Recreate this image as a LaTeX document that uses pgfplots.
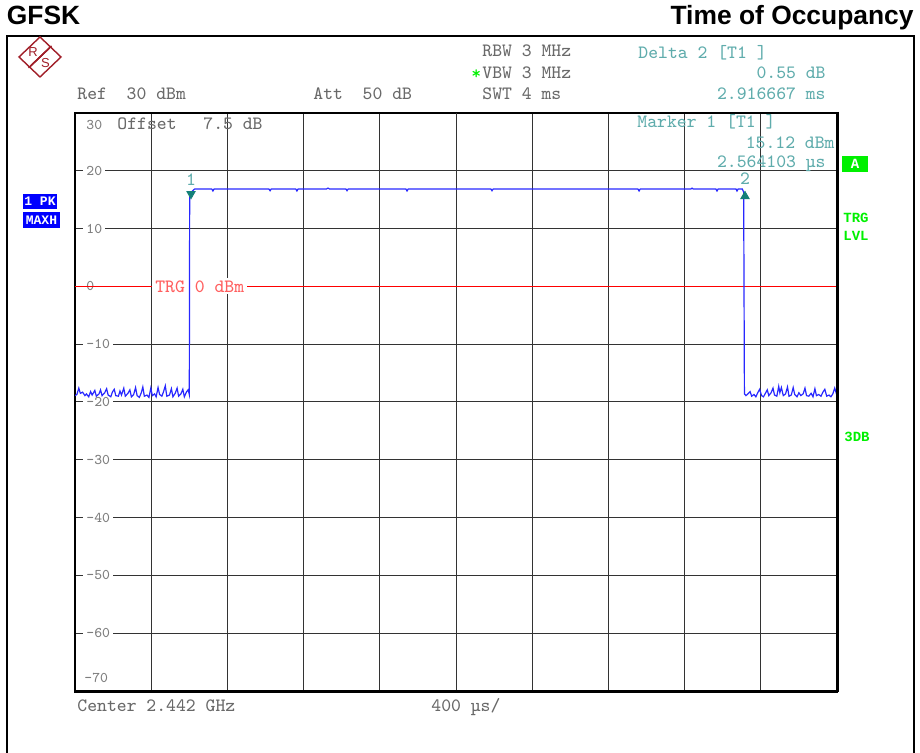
\documentclass[border=0pt]{standalone}
\usepackage{fontspec}
\setmainfont{Liberation Sans}
\newfontfamily\boldmono{Liberation Mono}
\usepackage{pgfplots}
\pgfplotsset{compat=1.18}

\definecolor{rsgray}{RGB}{105,105,105}
\definecolor{tickgray}{RGB}{125,125,125}
\definecolor{mkteal}{RGB}{95,172,172}
\definecolor{mkdark}{RGB}{20,128,120}
\definecolor{tracebl}{RGB}{40,40,255}
\definecolor{trgred}{RGB}{255,95,95}
\definecolor{rsgreen}{RGB}{0,240,0}
\definecolor{rsblue}{RGB}{0,0,255}
\definecolor{rsred}{RGB}{160,30,40}

\newcommand\hdr{\ttfamily\fontsize{9.4}{10}\selectfont}
\newcommand\tkl{\ttfamily\fontsize{7.4}{8}\selectfont}
\newcommand\gl{\boldmono\bfseries\fontsize{7}{8}\selectfont}

\begin{document}
\begin{tikzpicture}
% axis box = pixels x 75..837, y 113..691 (0.5pt per pixel)
\begin{axis}[
    at={(0,0)}, anchor=south west,
    scale only axis,
    width=381pt, height=289pt,
    xmin=0, xmax=4, ymin=-70, ymax=30,
    xtick={0.4,0.8,1.2,1.6,2.4,2.8,3.2,3.6},
    xticklabels={},
    extra x ticks={2}, extra x tick labels={},
    extra x tick style={grid style={black, line width=1pt}},
    ytick={-60,-50,-40,-30,-20,-10,0,10,20},
    yticklabels={-60,-50,-40,-30,-20,-10,0,10,20},
    grid=major,
    major grid style={black!80, line width=0.5pt},
    major tick length=0pt,
    axis line style={black, line width=1pt},
    yticklabel style={anchor=west, xshift=4pt, font=\tkl, text=tickgray,
        fill=white, inner xsep=1.5pt, inner ysep=0.5pt},
]
% trigger level
\addplot[red, line width=0.6pt] coordinates {(0,0) (4,0)};
\node[anchor=west, fill=white, inner xsep=1.5pt, inner ysep=1pt, font=\hdr, text=trgred]
    at (axis cs:0.404,0) {TRG 0 dBm};

% trace (max hold)
\addplot[tracebl, line width=0.6pt] coordinates {
(0.000,-18.9) (0.010,-18.7) (0.020,-17.6) (0.028,-18.5) (0.040,-18.3)
(0.052,-18.9) (0.060,-18.6) (0.072,-19.1) (0.082,-18.2) (0.090,-18.8)
(0.104,-18.0) (0.112,-19.0) (0.126,-18.6) (0.134,-17.9) (0.142,-18.9)
(0.156,-18.4) (0.166,-17.7) (0.174,-18.8) (0.188,-19.1) (0.196,-18.3)
(0.206,-17.8) (0.214,-18.9) (0.228,-19.0) (0.236,-18.1) (0.244,-18.8)
(0.256,-17.6) (0.264,-19.0) (0.278,-18.5) (0.288,-17.9) (0.296,-19.1)
(0.308,-18.7) (0.318,-17.5) (0.326,-18.9) (0.338,-19.2) (0.348,-18.4)
(0.356,-17.4) (0.364,-19.0) (0.378,-18.8) (0.388,-19.2) (0.398,-17.6)
(0.406,-18.9) (0.418,-18.6) (0.426,-19.1) (0.436,-17.5) (0.444,-18.7)
(0.456,-19.0) (0.464,-18.3) (0.474,-17.2) (0.482,-19.0) (0.496,-18.8)
(0.506,-17.7) (0.514,-19.1) (0.526,-18.5) (0.536,-17.6) (0.544,-19.0)
(0.556,-18.6) (0.566,-17.8) (0.574,-19.1) (0.586,-18.2) (0.594,-17.9)
(0.600,-18.7)
(0.602,15.4) (0.610,16.3) (0.628,16.85)
(0.718,16.85) (0.724,16.5) (0.730,16.85)
(1.018,16.85) (1.024,16.55) (1.030,16.85)
(1.159,16.85) (1.165,16.5) (1.171,16.85)
(1.320,16.85) (1.328,17.0) (1.336,16.85)
(1.422,16.85) (1.428,16.55) (1.434,16.85)
(1.737,16.85) (1.743,16.5) (1.749,16.85)
(2.183,16.85) (2.189,16.55) (2.195,16.85)
(2.955,16.85) (2.961,16.5) (2.967,16.85)
(3.233,16.85) (3.239,17.0) (3.245,16.85)
(3.364,16.85) (3.370,16.5) (3.376,16.85)
(3.470,16.85) (3.475,16.5) (3.481,16.85)
(3.503,16.85) (3.510,16.3) (3.514,-18.6)
(3.522,-18.9) (3.532,-18.6) (3.544,-18.2) (3.552,-19.0) (3.564,-18.7)
(3.574,-19.1) (3.584,-18.4) (3.594,-17.8) (3.604,-18.9) (3.614,-19.1)
(3.624,-18.5) (3.634,-17.9) (3.642,-18.9) (3.654,-18.4) (3.664,-17.6)
(3.672,-18.8) (3.684,-19.0) (3.694,-17.3) (3.700,-18.4) (3.708,-17.5)
(3.718,-18.9) (3.730,-18.6) (3.740,-17.4) (3.748,-19.0) (3.760,-18.8)
(3.770,-17.5) (3.778,-18.7) (3.790,-19.1) (3.800,-18.4) (3.810,-18.9)
(3.822,-18.6) (3.832,-17.6) (3.840,-18.9) (3.852,-19.0) (3.864,-18.5)
(3.874,-19.1) (3.884,-17.7) (3.892,-18.9) (3.904,-18.7) (3.916,-19.0)
(3.926,-18.3) (3.936,-17.8) (3.946,-19.0) (3.958,-18.8) (3.968,-19.1)
(3.978,-18.6) (3.988,-17.6) (4.000,-18.9)
};

% markers
\addplot[only marks, mark=triangle*, mark size=2.4pt,
    mark options={rotate=180, fill=mkdark, draw=mkdark}] coordinates {(0.609,16.0)};
\addplot[only marks, mark=triangle*, mark size=2.4pt,
    mark options={fill=mkdark, draw=mkdark}] coordinates {(3.517,15.6)};
\node[font=\hdr, text=mkteal] at (axis cs:0.609,18.4) {1};
\node[font=\hdr, text=mkteal] at (axis cs:3.517,18.6) {2};
\end{axis}

% everything else in pixel coordinates of the reference
\begin{scope}[x=0.5pt, y=-0.5pt, shift={(-37.5pt,345.5pt)}]
  % heavier right / bottom borders of the grid
  \draw[line width=1.6pt] (837.3,112) -- (837.3,692);
  \draw[line width=1.6pt] (74,691.5) -- (838,691.5);

  % outer frame
  \draw[line width=1.25pt] (7,36) rectangle (914,770);

  % titles
  \node[anchor=base west, inner sep=0, font=\fontsize{13.2}{15}\selectfont\bfseries] at (6.5,25) {GFSK};
  \node[anchor=base east, inner sep=0, font=\fontsize{13.2}{15}\selectfont\bfseries] at (914,25) {Time of Occupancy};

  % R&S logo
  \begin{scope}[draw=rsred, line width=0.7pt]
    \draw (40,37) -- (61,57) -- (40,77) -- (19,57) -- cycle;
    \draw (51.5,46) -- (30.5,66);
    \draw (50.5,47) -- (29.5,67);
    \draw (49.5,48) -- (28.5,68);
  \end{scope}
  \node[text=rsred, font=\fontsize{6.5}{7}\selectfont, inner sep=0] at (33,52) {R};
  \node[text=rsred, font=\fontsize{6.5}{7}\selectfont, inner sep=0] at (45.5,63) {S};

  % header block
  \begin{scope}[every node/.style={anchor=base west, inner sep=0, font=\hdr, text=rsgray}]
    \node at (77,100) {Ref~~30 dBm};
    \node at (313,100) {Att~~50 dB};
    \node at (482,57) {RBW 3 MHz};
    \node at (482,79) {VBW 3 MHz};
    \node[text=rsgreen] at (471,80) {*};
    \node at (482,100) {SWT 4 ms};
    \node at (117,130) {Offset};
    \node at (203,130) {7.5 dB};
    \node at (77,712) {Center 2.442 GHz};
    \node at (431,712) {400 µs/};
    \node[font=\tkl, text=tickgray] at (86,129.5) {30};
    \node[font=\tkl, text=tickgray] at (84,683) {-70};
  \end{scope}
  \begin{scope}[every node/.style={inner sep=0, font=\hdr, text=mkteal}]
    \node[anchor=base west] at (638,59) {Delta 2 [T1 ]};
    \node[anchor=base east] at (826,79) {0.55 dB};
    \node[anchor=base east] at (826,100) {2.916667 ms};
    \node[anchor=base west] at (637,128) {Marker 1 [T1 ]};
    \node[anchor=base east] at (835,149) {15.12 dBm};
    \node[anchor=base east] at (826,168) {2.564103 µs};
  \end{scope}

  % side annotations
  \node[fill=rsgreen, text=white, font=\gl, minimum width=13pt, minimum height=8pt, inner sep=0] at (855,164) {A};
  \node[anchor=base west, inner sep=0, font=\gl, text=rsgreen] at (843,223) {TRG};
  \node[anchor=base west, inner sep=0, font=\gl, text=rsgreen] at (843,241) {LVL};
  \node[anchor=base west, inner sep=0, font=\gl, text=rsgreen] at (844,442) {3DB};
  \node[fill=rsblue, text=white, font=\boldmono\bfseries\fontsize{6.5}{7}\selectfont, minimum width=17pt, minimum height=7.5pt, inner sep=0] at (40,201.5) {1 PK};
  \node[fill=rsblue, text=white, font=\boldmono\bfseries\fontsize{6.5}{7}\selectfont, minimum width=18.5pt, minimum height=8pt, inner sep=0] at (41.5,220) {MAXH};

  \pgfresetboundingbox
  \path (0,0) rectangle (920,753);
\end{scope}
\end{tikzpicture}
\end{document}
